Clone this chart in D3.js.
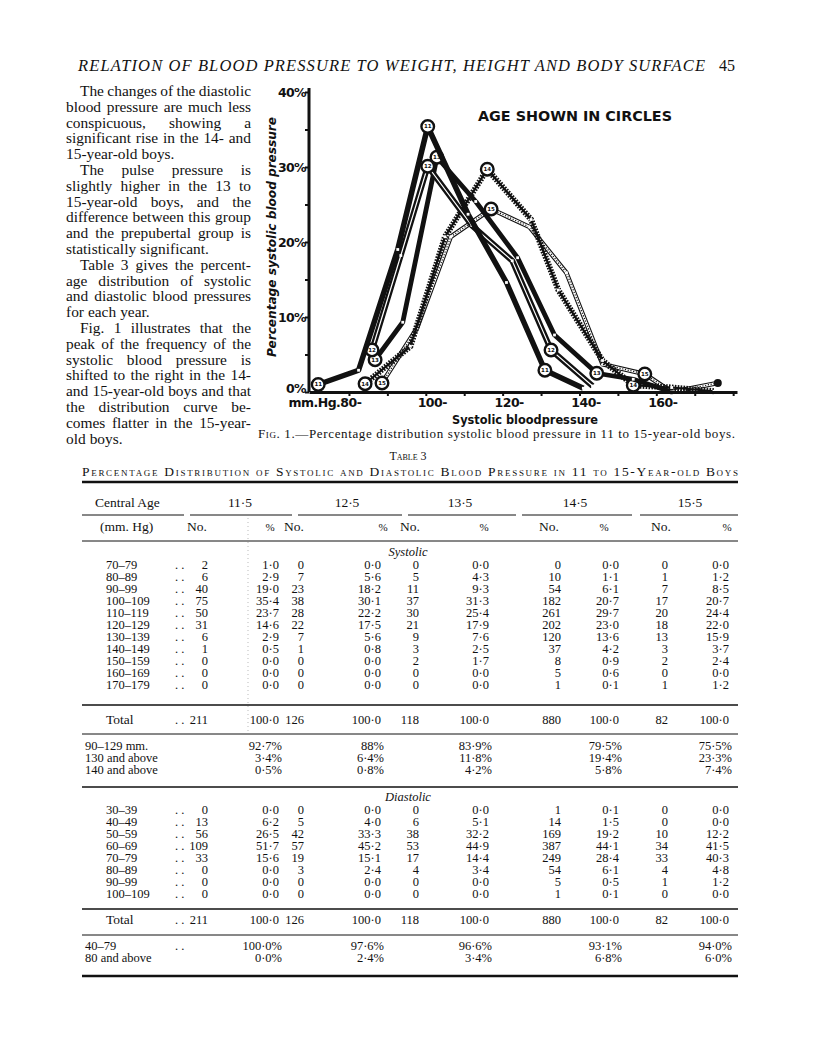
<!DOCTYPE html>
<html>
<head>
<meta charset="utf-8">
<script src="https://cdn.jsdelivr.net/npm/d3@7"></script>
<style>
  body { margin: 0; background: #fff; }
  svg { display: block; }
</style>
</head>
<body>
<svg id="page"></svg>
<script>
// ---- Fig. 1 : points (mm Hg position, percentage) ----
const bp11 = [72, 82.5, 92.7, 100.5, 111, 121, 131, 141];
const pct11 = [1.0, 2.9, 19.0, 35.4, 23.7, 14.6, 2.9, 0.5];
const ring11 = [0, 3, 6];
const bp12 = [86, 93.5, 100.5, 112, 122.5, 132.6, 143.4];
const pct12 = [5.6, 18.2, 30.1, 22.2, 17.5, 5.6, 0.8];
const ring12 = [0, 2, 5];
const bp13 = [86.8, 94, 102.9, 113, 123.9, 133.5, 144.5, 154, 164];
const pct13 = [4.3, 9.3, 31.3, 25.4, 17.9, 7.6, 2.5, 1.7, 0.0];
const ring13 = [0, 2, 6];
const bp14 = [84.2, 96, 105, 116, 127.4, 134.5, 146, 154, 164, 175];
const pct14 = [1.1, 6.1, 20.7, 29.7, 23.0, 13.6, 4.2, 0.9, 0.6, 0.1];
const ring14 = [0, 3, 7];
const bp15 = [88.6, 97.7, 106.5, 117, 127, 136.6, 146, 157, 164, 176];
const pct15 = [1.2, 8.5, 20.7, 24.4, 22.0, 15.9, 3.7, 2.4, 0.0, 1.2];
const ring15 = [0, 3, 7];

const xTicks = [80, 90, 100, 110, 120, 130, 140, 150, 160, 170, 180];
const xLabels = [80, 100, 120, 140, 160];
const yTicks = [0, 5, 10, 15, 20, 25, 30, 35, 40];

// ---- Table 3 ----
const ages = ['11·5', '12·5', '13·5', '14·5', '15·5'];
const totals = [211, 126, 118, 880, 82];

const sysClasses = ['70–79', '80–89', '90–99', '100–109', '110–119', '120–129', '130–139', '140–149', '150–159', '160–169', '170–179'];
const sysNo11 = [2, 6, 40, 75, 50, 31, 6, 1, 0, 0, 0];
const sysPct11 = [1.0, 2.9, 19.0, 35.4, 23.7, 14.6, 2.9, 0.5, 0.0, 0.0, 0.0];
const sysNo12 = [0, 7, 23, 38, 28, 22, 7, 1, 0, 0, 0];
const sysPct12 = [0.0, 5.6, 18.2, 30.1, 22.2, 17.5, 5.6, 0.8, 0.0, 0.0, 0.0];
const sysNo13 = [0, 5, 11, 37, 30, 21, 9, 3, 2, 0, 0];
const sysPct13 = [0.0, 4.3, 9.3, 31.3, 25.4, 17.9, 7.6, 2.5, 1.7, 0.0, 0.0];
const sysNo14 = [0, 10, 54, 182, 261, 202, 120, 37, 8, 5, 1];
const sysPct14 = [0.0, 1.1, 6.1, 20.7, 29.7, 23.0, 13.6, 4.2, 0.9, 0.6, 0.1];
const sysNo15 = [0, 1, 7, 17, 20, 18, 13, 3, 2, 0, 1];
const sysPct15 = [0.0, 1.2, 8.5, 20.7, 24.4, 22.0, 15.9, 3.7, 2.4, 0.0, 1.2];

const sysSumLabels = ['90–129 mm.', '130 and above', '140 and above'];
const sysSum11 = ['92·7%', '3·4%', '0·5%'];
const sysSum12 = ['88%', '6·4%', '0·8%'];
const sysSum13 = ['83·9%', '11·8%', '4·2%'];
const sysSum14 = ['79·5%', '19·4%', '5·8%'];
const sysSum15 = ['75·5%', '23·3%', '7·4%'];

const diaClasses = ['30–39', '40–49', '50–59', '60–69', '70–79', '80–89', '90–99', '100–109'];
const diaNo11 = [0, 13, 56, 109, 33, 0, 0, 0];
const diaPct11 = [0.0, 6.2, 26.5, 51.7, 15.6, 0.0, 0.0, 0.0];
const diaNo12 = [0, 5, 42, 57, 19, 3, 0, 0];
const diaPct12 = [0.0, 4.0, 33.3, 45.2, 15.1, 2.4, 0.0, 0.0];
const diaNo13 = [0, 6, 38, 53, 17, 4, 0, 0];
const diaPct13 = [0.0, 5.1, 32.2, 44.9, 14.4, 3.4, 0.0, 0.0];
const diaNo14 = [1, 14, 169, 387, 249, 54, 5, 1];
const diaPct14 = [0.1, 1.5, 19.2, 44.1, 28.4, 6.1, 0.5, 0.1];
const diaNo15 = [0, 0, 10, 34, 33, 4, 1, 0];
const diaPct15 = [0.0, 0.0, 12.2, 41.5, 40.3, 4.8, 1.2, 0.0];

const diaSumLabels = ['40–79', '80 and above'];
const diaSum11 = ['100·0%', '0·0%'];
const diaSum12 = ['97·6%', '2·4%'];
const diaSum13 = ['96·6%', '3·4%'];
const diaSum14 = ['93·1%', '6·8%'];
const diaSum15 = ['94·0%', '6·0%'];

// ---- running text ----
const paraLines = [
    'The changes of the diastolic',
    'blood pressure are much less',
    'conspicuous, showing a',
    'significant rise in the 14- and',
    '15-year-old boys.',
    'The pulse pressure is',
    'slightly higher in the 13 to',
    '15-year-old boys, and the',
    'difference between this group',
    'and the prepubertal group is',
    'statistically significant.',
    'Table 3 gives the percent-',
    'age distribution of systolic',
    'and diastolic blood pressures',
    'for each year.',
    'Fig. 1 illustrates that the',
    'peak of the frequency of the',
    'systolic blood pressure is',
    'shifted to the right in the 14-',
    'and 15-year-old boys and that',
    'the distribution curve be-',
    'comes flatter in the 15-year-',
    'old boys.'
];
const paraFirst = [0, 5, 11, 15];
const paraLast = [4, 10, 14, 22];

const INK = '#111';
const SERIF = "'Liberation Serif', 'Times New Roman', serif";
const SANS = "'DejaVu Sans', 'Liberation Sans', sans-serif";
const fmt = v => d3.format('.1f')(v).replace('.', '·');

const svg = d3.select('#page')
    .attr('width', 816)
    .attr('height', 1056)
    .style('background', '#fff');

// ---------------- header + left text ----------------
svg.append('text')
    .attr('x', 78).attr('y', 71)
    .attr('font-family', SERIF).attr('font-style', 'italic')
    .attr('font-size', 16.5).attr('fill', INK)
    .attr('textLength', 627).attr('lengthAdjust', 'spacing')
    .text('RELATION OF BLOOD PRESSURE TO WEIGHT, HEIGHT AND BODY SURFACE');
svg.append('text')
    .attr('x', 719).attr('y', 71)
    .attr('font-family', SERIF).attr('font-size', 16).attr('fill', INK)
    .text('45');

const para = svg.append('g')
    .attr('font-family', SERIF).attr('font-size', 15.4).attr('fill', INK);

paraLines.forEach((line, i) => {
    const y = 96 + i * 15.8;
    const x0 = paraFirst.includes(i) ? 80 : 66;
    const x1 = 251;
    const words = line.split(' ');
    const nodes = words.map(w => para.append('text').attr('y', y).text(w));
    const widths = nodes.map(n => n.node().getComputedTextLength());
    const justify = !paraLast.includes(i) && words.length > 1;
    const gap = justify ? (x1 - x0 - d3.sum(widths)) / (words.length - 1) : 4;
    let x = x0;
    nodes.forEach((n, k) => { n.attr('x', x); x += widths[k] + gap; });
});

// ---------------- Fig. 1 ----------------
class DistributionChart {

    constructor(config, series) {
        this.config = {
            parent: config.parent,
            left: config.left,
            right: config.right,
            top: config.top,
            bottom: config.bottom
        };
        this.series = series;
        this.init();
    }

    init() {
        let self = this;

        self.chart = self.config.parent.append('g');

        self.xscale = d3.scaleLinear()
            .domain([69.6, 181])
            .range([self.config.left, self.config.right]);

        self.yscale = d3.scaleLinear()
            .domain([0, 40])
            .range([self.config.bottom, self.config.top]);

        self.xaxis = d3.axisBottom(self.xscale)
            .tickValues(xTicks)
            .tickSize(4)
            .tickSizeOuter(0)
            .tickFormat(d => xLabels.includes(d) ? (d === 80 ? 'mm.Hg.80-' : d + '-') : '');

        self.yaxis = d3.axisLeft(self.yscale)
            .tickValues(yTicks)
            .tickSize(4)
            .tickSizeOuter(0)
            .tickPadding(-1)
            .tickFormat(d => d % 10 === 0 ? d + '%' : '');
    }

    render() {
        let self = this;

        const line = d3.line()
            .x(d => self.xscale(d.bp))
            .y(d => self.yscale(d.pct));

        // draw dotted series underneath the solid ones
        self.series.slice().reverse().forEach(s => {
            const pts = s.bp.map((b, i) => ({ bp: b, pct: s.pct[i], i: i }));
            const g = self.chart.append('g');
            const d = line(pts);

            if (s.style === 'solid') {
                g.append('path').attr('d', d).attr('fill', 'none')
                    .attr('stroke', INK).attr('stroke-width', s.width)
                    .attr('stroke-linejoin', 'round');
            } else if (s.style === 'double') {
                g.append('path').attr('d', d).attr('fill', 'none')
                    .attr('stroke', INK).attr('stroke-width', 5.8)
                    .attr('stroke-linejoin', 'round');
                g.append('path').attr('d', d).attr('fill', 'none')
                    .attr('stroke', '#fff').attr('stroke-width', 1.2);
            } else if (s.style === 'hatch') {
                g.append('path').attr('d', d).attr('fill', 'none')
                    .attr('stroke', INK).attr('stroke-width', 2.2);
                g.append('path').attr('d', d).attr('fill', 'none')
                    .attr('stroke', INK).attr('stroke-width', 6)
                    .attr('stroke-dasharray', '1.6 1.3');
            } else {
                g.append('path').attr('d', d).attr('fill', 'none')
                    .attr('stroke', INK).attr('stroke-width', 4.6)
                    .attr('stroke-linejoin', 'round');
                g.append('path').attr('d', d).attr('fill', 'none')
                    .attr('stroke', '#fff').attr('stroke-width', 2.4);
                g.append('path').attr('d', d).attr('fill', 'none')
                    .attr('stroke', INK).attr('stroke-width', 1.2)
                    .attr('stroke-dasharray', '1.2 1.6');
            }

            // small white vertex marks
            g.selectAll('rect')
                .data(pts.filter(p => !s.ring.includes(p.i)))
                .join('rect')
                .attr('x', p => self.xscale(p.bp) - 1.4)
                .attr('y', p => self.yscale(p.pct) - 1.4)
                .attr('width', 2.8)
                .attr('height', 2.8)
                .attr('fill', '#fff');

            // age circles
            const rings = g.selectAll('g.ring')
                .data(pts.filter(p => s.ring.includes(p.i)))
                .join('g')
                .attr('class', 'ring')
                .attr('transform', p => `translate(${self.xscale(p.bp)}, ${self.yscale(p.pct)})`);
            rings.append('circle')
                .attr('r', 6.3)
                .attr('fill', '#fff')
                .attr('stroke', INK)
                .attr('stroke-width', 2.4);
            rings.append('text')
                .attr('text-anchor', 'middle')
                .attr('dy', '0.35em')
                .attr('font-family', SANS)
                .attr('font-weight', 'bold')
                .attr('font-size', 5.5)
                .attr('fill', INK)
                .text(s.label);

            if (s.endDot) {
                const p = pts[pts.length - 1];
                g.append('circle')
                    .attr('cx', self.xscale(p.bp))
                    .attr('cy', self.yscale(p.pct))
                    .attr('r', 4)
                    .attr('fill', INK);
            }
        });

        // axes
        const xg = self.chart.append('g')
            .attr('transform', `translate(0, ${self.config.bottom})`)
            .call(self.xaxis);
        xg.select('.domain').attr('stroke', INK).attr('stroke-width', 3);
        xg.selectAll('.tick line').attr('stroke', INK).attr('stroke-width', 2);
        xg.selectAll('.tick text')
            .attr('fill', INK)
            .attr('font-family', SANS)
            .attr('font-weight', 'bold')
            .attr('font-size', 12.5)
            .attr('letter-spacing', -0.5)
            .attr('text-anchor', d => d === 80 ? 'end' : 'middle')
            .attr('dx', d => d === 80 ? 12 : 6)
            .attr('y', 6);

        const yg = self.chart.append('g')
            .attr('transform', `translate(${self.config.left}, 0)`)
            .call(self.yaxis);
        yg.select('.domain').attr('stroke', INK).attr('stroke-width', 3)
            .attr('d', `M0,${self.config.bottom}V${self.config.top - 4}`);
        yg.selectAll('.tick line').attr('stroke', INK).attr('stroke-width', 2);
        yg.selectAll('.tick text')
            .attr('fill', INK)
            .attr('font-family', SANS)
            .attr('font-weight', 'bold')
            .attr('font-size', 12.5)
            .attr('letter-spacing', -0.6)
            .attr('dy', d => d === 0 ? '0em' : '0.32em');

        // titles
        self.chart.append('text')
            .attr('x', 525).attr('y', 424)
            .attr('text-anchor', 'middle')
            .attr('font-family', SANS).attr('font-weight', 'bold')
            .attr('font-size', 12).attr('fill', INK)
            .attr('textLength', 146).attr('lengthAdjust', 'spacingAndGlyphs')
            .text('Systolic  bloodpressure');

        self.chart.append('text')
            .attr('transform', 'translate(276, 237) rotate(-90)')
            .attr('text-anchor', 'middle')
            .attr('font-family', SANS).attr('font-weight', 'bold')
            .attr('font-style', 'italic')
            .attr('font-size', 13).attr('fill', INK)
            .attr('textLength', 240).attr('lengthAdjust', 'spacingAndGlyphs')
            .text('Percentage systolic blood pressure');

        self.chart.append('text')
            .attr('x', 478).attr('y', 121)
            .attr('font-family', SANS).attr('font-weight', 'bold')
            .attr('font-size', 14).attr('fill', INK)
            .attr('textLength', 194).attr('lengthAdjust', 'spacingAndGlyphs')
            .text('AGE  SHOWN  IN  CIRCLES');
    }
}

const fig = new DistributionChart(
    { parent: svg, left: 309, right: 737, top: 92, bottom: 392 },
    [
        { label: '11', bp: bp11, pct: pct11, ring: ring11, style: 'solid', width: 5.5 },
        { label: '12', bp: bp12, pct: pct12, ring: ring12, style: 'double' },
        { label: '13', bp: bp13, pct: pct13, ring: ring13, style: 'solid', width: 4.8 },
        { label: '14', bp: bp14, pct: pct14, ring: ring14, style: 'hatch' },
        { label: '15', bp: bp15, pct: pct15, ring: ring15, style: 'chain', endDot: true }
    ]
);
fig.render();

// caption
const cap = svg.append('text')
    .attr('x', 258).attr('y', 438)
    .attr('font-family', SERIF).attr('font-size', 13).attr('fill', INK)
    .attr('textLength', 477).attr('lengthAdjust', 'spacing');
cap.append('tspan').attr('font-variant', 'small-caps').text('Fig. 1.');
cap.append('tspan').text('—Percentage distribution systolic blood pressure in 11 to 15-year-old boys.');

// ---------------- Table 3 ----------------
const tbl = svg.append('g')
    .attr('font-family', SERIF).attr('fill', INK).attr('font-size', 12.5);

tbl.append('text')
    .attr('x', 408).attr('y', 460).attr('text-anchor', 'middle')
    .attr('font-variant', 'small-caps').attr('font-size', 12)
    .text('Table 3');
tbl.append('text')
    .attr('x', 82).attr('y', 476)
    .attr('font-variant', 'small-caps').attr('font-size', 13.5)
    .attr('textLength', 656).attr('lengthAdjust', 'spacing')
    .text('Percentage Distribution of Systolic and Diastolic Blood Pressure in 11 to 15-Year-old Boys');

const rule = (y, w, x0 = 82, x1 = 738) => tbl.append('line')
    .attr('x1', x0).attr('x2', x1).attr('y1', y).attr('y2', y)
    .attr('stroke', INK).attr('stroke-width', w);

rule(482, 2.4);
rule(541, 1);
rule(705, 1.4);
rule(734, 1);
rule(787, 1.4);
rule(909, 1.4);
rule(935, 1);
rule(976, 2.6);
[[82, 184], [190, 292], [298, 402], [408, 516], [522, 632], [640, 738]]
    .forEach(s => rule(515, 1, s[0], s[1]));

tbl.append('line')
    .attr('x1', 248).attr('x2', 248).attr('y1', 518).attr('y2', 732)
    .attr('stroke', '#aaa').attr('stroke-width', 0.8)
    .attr('stroke-dasharray', '1 3');

const noRight = [208, 304, 419, 561, 668];
const pctRight = [279, 381, 489, 619, 729];
const ageCenter = [240, 347, 460, 575, 690];
const noCenter = [197, 294, 410, 549, 661];
const pctHead = [270, 383, 484, 604, 727];

tbl.append('text').attr('x', 95).attr('y', 507).attr('font-size', 13.5).text('Central Age');
tbl.selectAll('text.age').data(ages).join('text')
    .attr('class', 'age').attr('x', (d, i) => ageCenter[i]).attr('y', 507)
    .attr('text-anchor', 'middle').attr('font-size', 13.5).text(d => d);
tbl.append('text').attr('x', 100).attr('y', 531).attr('font-size', 13.5).text('(mm. Hg)');
ages.forEach((a, i) => {
    tbl.append('text').attr('x', noCenter[i]).attr('y', 531)
        .attr('text-anchor', 'middle').attr('font-size', 13.5).text('No.');
    tbl.append('text').attr('x', pctHead[i]).attr('y', 531)
        .attr('text-anchor', 'middle').attr('font-size', 11).text('%');
});

tbl.append('text').attr('x', 408).attr('y', 556).attr('text-anchor', 'middle')
    .attr('font-style', 'italic').text('Systolic');
tbl.append('text').attr('x', 408).attr('y', 801).attr('text-anchor', 'middle')
    .attr('font-style', 'italic').text('Diastolic');

const sysNo = [sysNo11, sysNo12, sysNo13, sysNo14, sysNo15];
const sysPct = [sysPct11, sysPct12, sysPct13, sysPct14, sysPct15];
const diaNo = [diaNo11, diaNo12, diaNo13, diaNo14, diaNo15];
const diaPct = [diaPct11, diaPct12, diaPct13, diaPct14, diaPct15];

function block(classes, nos, pcts, y0) {
    classes.forEach((c, r) => {
        const y = y0 + r * 12;
        tbl.append('text').attr('x', 106).attr('y', y).text(c);
        tbl.append('text').attr('x', 175).attr('y', y).text('. .');
        nos.forEach((col, k) => {
            tbl.append('text').attr('x', noRight[k]).attr('y', y)
                .attr('text-anchor', 'end').text(col[r]);
            tbl.append('text').attr('x', pctRight[k]).attr('y', y)
                .attr('text-anchor', 'end').text(fmt(pcts[k][r]));
        });
    });
}
block(sysClasses, sysNo, sysPct, 569);
block(diaClasses, diaNo, diaPct, 814);

function totalRow(y) {
    tbl.append('text').attr('x', 106).attr('y', y).attr('font-size', 13.5).text('Total');
    tbl.append('text').attr('x', 175).attr('y', y).text('. .');
    totals.forEach((t, k) => {
        tbl.append('text').attr('x', noRight[k]).attr('y', y).attr('text-anchor', 'end').text(t);
        tbl.append('text').attr('x', pctRight[k]).attr('y', y).attr('text-anchor', 'end').text(fmt(100));
    });
}
totalRow(724);
totalRow(924);

function summary(labels, cols, y0) {
    labels.forEach((l, r) => {
        const y = y0 + r * 12;
        tbl.append('text').attr('x', 85).attr('y', y).text(l);
        cols.forEach((col, k) => {
            tbl.append('text').attr('x', pctRight[k] + 3).attr('y', y)
                .attr('text-anchor', 'end').text(col[r]);
        });
    });
}
summary(sysSumLabels, [sysSum11, sysSum12, sysSum13, sysSum14, sysSum15], 750);
summary(diaSumLabels, [diaSum11, diaSum12, diaSum13, diaSum14, diaSum15], 950);
tbl.append('text').attr('x', 175).attr('y', 950).text('. .');
</script>
</body>
</html>
